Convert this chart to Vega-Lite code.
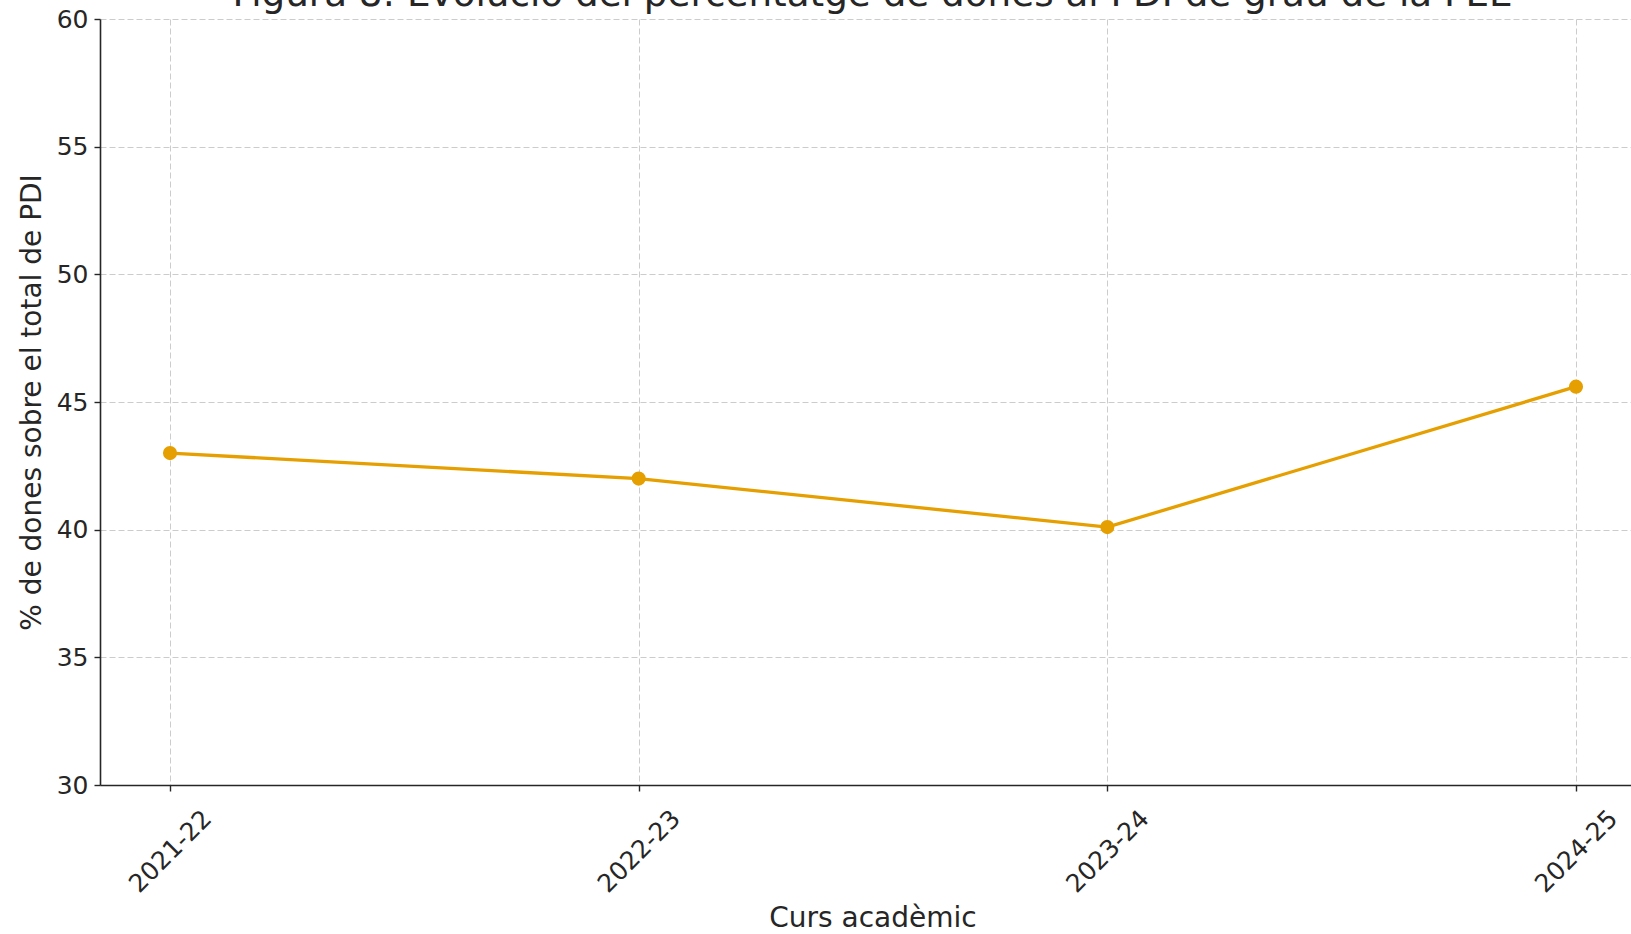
{
  "$schema": "https://vega.github.io/schema/vega-lite/v6.json",
  "autosize": {"type": "none"},
  "width": 1531,
  "height": 766,
  "padding": {"left": 100, "top": 19, "right": 0, "bottom": 149},
  "background": "white",
  "title": {
    "text": "Figura 8: Evolució del percentatge de dones al PDI de grau de la FEE",
    "font": "DejaVu Sans",
    "fontSize": 37.3,
    "fontWeight": "normal",
    "color": "#262626",
    "baseline": "alphabetic",
    "offset": 0,
    "dy": 36,
    "dx": 7
  },
  "data": {
    "values": [
      {"curs": "2021-22", "pct": 43.0},
      {"curs": "2022-23", "pct": 42.0},
      {"curs": "2023-24", "pct": 40.1},
      {"curs": "2024-25", "pct": 45.6}
    ]
  },
  "config": {
    "view": {"stroke": null},
    "axis": {
      "labelFont": "DejaVu Sans",
      "titleFont": "DejaVu Sans",
      "labelColor": "#262626",
      "titleColor": "#262626",
      "labelFontSize": 25,
      "titleFontSize": 28,
      "titleFontWeight": "normal",
      "domainColor": "#262626",
      "domainWidth": 1.6,
      "tickColor": "#262626",
      "tickWidth": 1.4,
      "tickSize": 6,
      "gridColor": "#cccccc",
      "gridWidth": 1,
      "gridDash": [6, 3]
    }
  },
  "encoding": {
    "x": {
      "field": "curs",
      "type": "ordinal",
      "sort": null,
      "scale": {"type": "point", "padding": 0.1334, "align": 0.56},
      "axis": {
        "title": "Curs acadèmic",
        "grid": true,
        "labelAngle": -45,
        "labelAlign": "center",
        "labelBaseline": "middle",
        "labelPadding": 60,
        "labelOverlap": false,
        "labelBound": false,
        "titleX": 772.5,
        "titleY": 141,
        "titleAlign": "center",
        "titleBaseline": "alphabetic"
      }
    },
    "y": {
      "field": "pct",
      "type": "quantitative",
      "scale": {"domain": [30, 60], "nice": false, "zero": false},
      "axis": {
        "title": "% de dones sobre el total de PDI",
        "values": [30, 35, 40, 45, 50, 55, 60],
        "grid": true,
        "labelPadding": 6,
        "titleX": -60,
        "titleY": 383,
        "titleAngle": -90,
        "titleAlign": "center",
        "titleBaseline": "alphabetic"
      }
    }
  },
  "layer": [
    {"mark": {"type": "line", "color": "#E69F00", "strokeWidth": 3.3}},
    {"mark": {"type": "point", "filled": true, "color": "#E69F00", "size": 200, "opacity": 1}}
  ]
}
